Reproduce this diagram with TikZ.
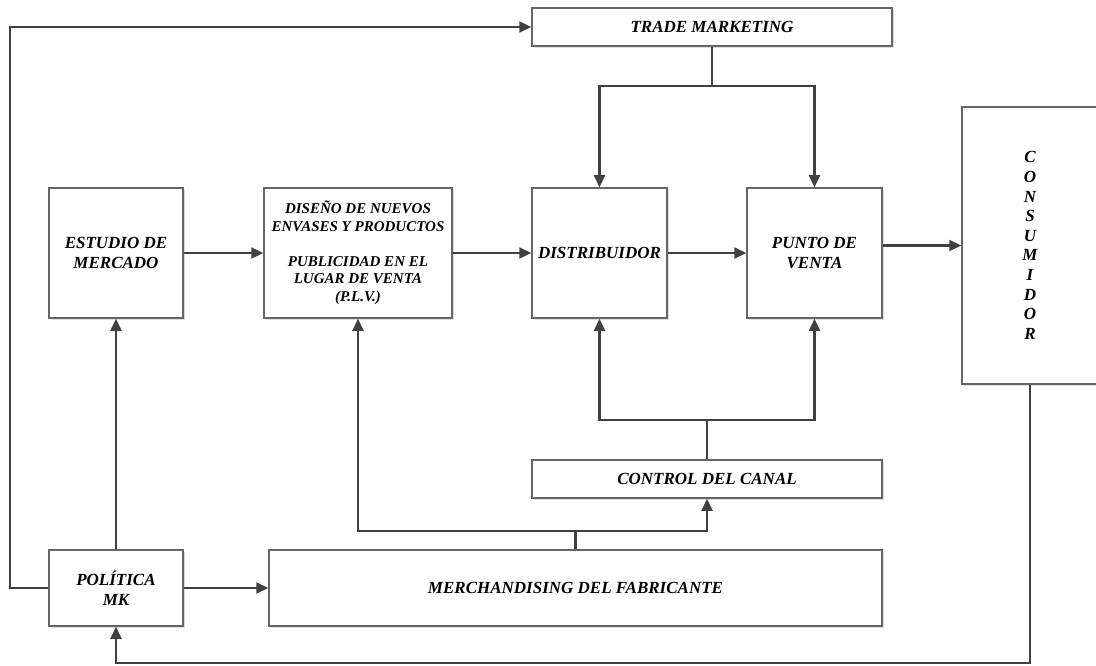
\documentclass[tikz,border=0pt]{standalone}
\usepackage{fontspec}
\setmainfont{Liberation Serif}
\usetikzlibrary{arrows.meta,shadows}
\definecolor{linegray}{HTML}{404040}
\definecolor{boxgray}{HTML}{666666}
\begin{document}
\begin{tikzpicture}[x=1pt,y=-1pt,
  box/.style={draw=boxgray, line width=1.5pt, fill=white, inner sep=0pt,
    align=center, font=\bfseries\itshape\fontsize{17}{20}\selectfont,
    drop shadow={shadow xshift=2pt, shadow yshift=-2pt, fill=black, opacity=0.13}},
  conn/.style={draw=linegray, line width=2.2pt},
  arr/.style={conn, -{Triangle[length=12pt,width=11pt]}}]
\useasboundingbox (0,0) rectangle (1096,666);

% blocks
\node[box, minimum width=360pt, minimum height=38pt] (trade) at (712,27) {TRADE MARKETING};
\node[box, minimum width=134pt, minimum height=130pt] (estudio) at (116,253) {ESTUDIO DE\\MERCADO};
\node[box, minimum width=188pt, minimum height=130pt,
  font=\bfseries\itshape\fontsize{15}{17.5}\selectfont] (diseno) at (358,253)
  {DISEÑO DE NUEVOS\\ENVASES Y PRODUCTOS\\[17.5pt]PUBLICIDAD EN EL\\LUGAR DE VENTA\\(P.L.V.)};
\node[box, minimum width=135pt, minimum height=130pt] (dist) at (599.5,253) {DISTRIBUIDOR};
\node[box, minimum width=135pt, minimum height=130pt] (punto) at (814.5,253) {PUNTO DE\\VENTA};
\node[box, minimum width=136pt, minimum height=277pt,
  font=\bfseries\itshape\fontsize{17}{19.6}\selectfont] (cons) at (1030,245.5)
  {C\\O\\N\\S\\U\\M\\I\\D\\O\\R};
\node[box, minimum width=350pt, minimum height=38pt] (control) at (707,479) {CONTROL DEL CANAL};
\node[box, minimum width=613pt, minimum height=76pt] (merch) at (575.5,588) {MERCHANDISING DEL FABRICANTE};
\node[box, minimum width=134pt, minimum height=76pt] (politica) at (116,588) {POLÍTICA\\MK};

% routing points
\coordinate (tb) at (712,86);
\coordinate (cb) at (707,420);
\coordinate (mb) at (575.5,531);
\coordinate (lx) at (10,0);
\coordinate (bot) at (0,663);

% main chain
\draw[arr] (estudio.east) -- (diseno.west);
\draw[arr] (diseno.east) -- (dist.west);
\draw[arr] (dist.east) -- (punto.west);
\draw[arr] (punto.east |- cons.west) -- (cons.west);

% trade marketing feeds
\draw[conn] (trade.south) -- (tb);
\draw[arr] (tb) -| (dist.north);
\draw[arr] (tb) -| (punto.north);

% channel control feeds
\draw[conn] (control.north) -- (cb);
\draw[arr] (cb) -| (dist.south);
\draw[arr] (cb) -| (punto.south);

% manufacturer merchandising
\draw[conn] (merch.north) -- (mb);
\draw[arr] (mb) -| (diseno.south);
\draw[arr] (mb) -| (control.south);

% marketing policy
\draw[arr] (politica.north) -- (estudio.south);
\draw[arr] (politica.east) -- (merch.west);
\draw[arr] (politica.west) -- (lx |- politica.west) |- (trade.west);

% consumer feedback
\draw[arr] (cons.south) -- (cons.south |- bot) -| (politica.south);
\end{tikzpicture}
\end{document}
